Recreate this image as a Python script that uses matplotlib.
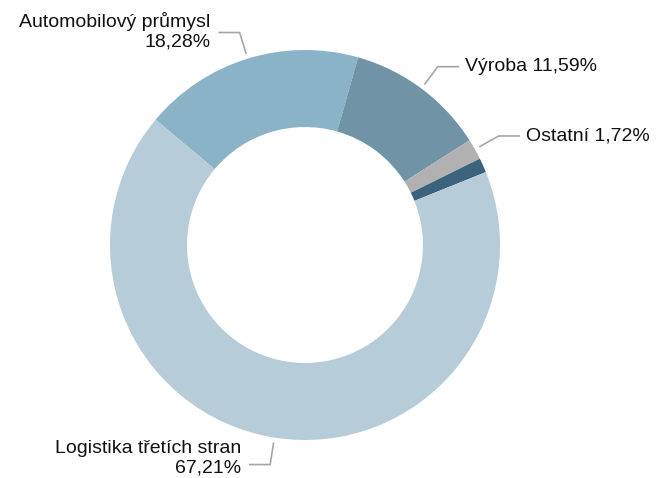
import numpy as np
import matplotlib.pyplot as plt

plt.rcParams['font.family'] = ['Liberation Sans', 'DejaVu Sans']

# data (clockwise from the top-left boundary)
labels = ["Automobilový průmysl", "Výroba", "Ostatní", "", "Logistika třetích stran"]
values = [18.28, 11.59, 1.72, 1.20, 67.21]
value_text = ["18,28%", "11,59%", "1,72%", "", "67,21%"]
colors = ["#8ab3c7", "#7093a6", "#b1b1b1", "#3b637d", "#b6ccd8"]

fig = plt.figure(figsize=(6.56, 4.78), dpi=100)
ax = fig.add_axes([0, 0, 1, 1])

start = 140.0
wedges, _ = ax.pie(values, colors=colors, startangle=start, counterclock=False,
                   radius=1.0, wedgeprops=dict(width=0.395, linewidth=0))

# pixel mapping: centre at (305, 245), radius 195 px
ax.set_xlim(-305 / 195, (656 - 305) / 195)
ax.set_ylim(-(478 - 245) / 195, 245 / 195)
ax.set_aspect('auto')
ax.axis('off')

line_col = "#a6a6a6"
for w, lab, vt in zip(wedges, labels, value_text):
    if not lab:
        continue
    ang = np.deg2rad((w.theta1 + w.theta2) / 2)
    x0, y0 = 1.03 * np.cos(ang), 1.03 * np.sin(ang)
    x1, y1 = 1.14 * np.cos(ang), 1.14 * np.sin(ang)
    side = 1 if np.cos(ang) > 0.2 else -1
    x2 = x1 + side * 0.105
    ax.plot([x0, x1, x2], [y0, y1, y1], color=line_col, lw=1.2, solid_joinstyle='miter')
    if side > 0:
        ax.text(x2 + 0.035, y1, f"{lab} {vt}", ha='left', va='center', fontsize=14,
                color='#111111')
    else:
        ty = y1 + (0.005 if y1 > 0 else 0.03)
        ax.text(x2 - 0.045, ty, f"{lab}\n{vt}", ha='right', va='center', fontsize=14,
                color='#111111', multialignment='right', linespacing=1.2)

fig.savefig("out.png", dpi=100)
